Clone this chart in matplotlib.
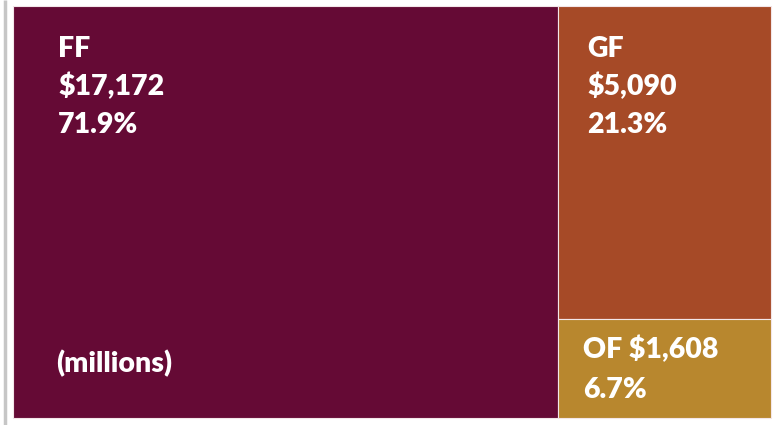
import matplotlib.pyplot as plt
from matplotlib.patches import Rectangle

# Données (millions de dollars)
fonds = ['FF', 'GF', 'OF']
montants = [17172, 5090, 1608]
couleurs = ['#650A35', '#A64A27', '#B8872E']

total = sum(montants)
parts = [m / total * 100 for m in montants]

# Zone du treemap, en pixels
X0, Y0, X1, Y1 = 13, 6, 771, 418

fig = plt.figure(figsize=(7.73, 4.25), dpi=100)
ax = fig.add_axes([0, 0, 1, 1])
ax.set_xlim(0, 773)
ax.set_ylim(425, 0)
ax.axis('off')

# ligne grise à gauche
ax.plot([4.5, 4.5], [0, 425], color='#C6C6C6', linewidth=2.5, solid_capstyle='butt')

largeur = X1 - X0
hauteur = Y1 - Y0
x_split = X0 + largeur * montants[0] / total
reste = montants[1] + montants[2]
y_split = Y0 + hauteur * montants[1] / reste

rects = [
    (X0, Y0, x_split - X0, hauteur),
    (x_split, Y0, X1 - x_split, y_split - Y0),
    (x_split, y_split, X1 - x_split, Y1 - y_split),
]
for (x, y, w, h), c in zip(rects, couleurs):
    ax.add_patch(Rectangle((x, y), w, h, facecolor=c, edgecolor='#F3E6E9', linewidth=0.8))

police = dict(color='white', fontsize=20.5, fontweight='heavy', family='Lato', va='baseline', ha='left')

def lignes(x, y, textes, pas=38):
    for i, t in enumerate(textes):
        ax.text(x, y + i * pas, t, **police)

lignes(X0 + 45, 57, [fonds[0], f'${montants[0]:,}', f'{parts[0]:.1f}%'])
lignes(x_split + 29, 57, [fonds[1], f'${montants[1]:,}', f'{parts[1]:.1f}%'])
lignes(x_split + 25, 358, [f'{fonds[2]} ${montants[2]:,}', f'{parts[2]:.1f}%'], pas=40)
ax.text(X0 + 43, 372, '(millions)', **police)

fig.savefig('out.png', dpi=100)
